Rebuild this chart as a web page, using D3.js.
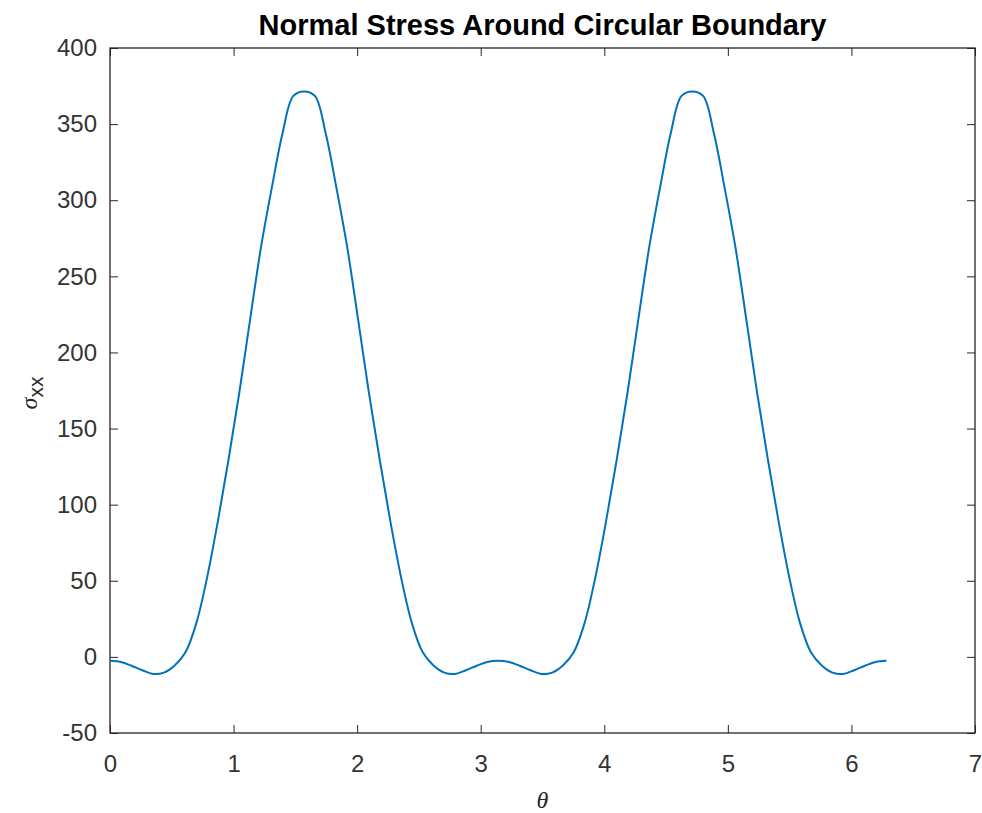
<!DOCTYPE html>
<html><head><meta charset="utf-8">
<script src="https://cdn.jsdelivr.net/npm/d3@7"></script>
<style>
html,body{margin:0;padding:0;background:#fff;}
svg{display:block;}
</style></head>
<body>
<svg id="chart" width="982" height="813"></svg>
<script>
const thetaDeg = [
  0,5,10,15,20,25,30,35,40,45,50,55,60,65,70,75,80,85,90,
  95,100,105,110,115,120,125,130,135,140,145,150,155,160,165,170,175,180,
  185,190,195,200,205,210,215,220,225,230,235,240,245,250,255,260,265,270,
  275,280,285,290,295,300,305,310,315,320,325,330,335,340,345,350,355,360
];
const sigmaXX = [
  -2.6,-3.3,-5.8,-8.8,-11.2,-10.3,-5.6,3,22,52,89,130,174,222,269,308,344,368.5,371.5,
  368.5,344,308,269,222,174,130,89,52,22,3,-5.6,-10.3,-11.2,-8.8,-5.8,-3.3,-2.6,
  -3.3,-5.8,-8.8,-11.2,-10.3,-5.6,3,22,52,89,130,174,222,269,308,344,368.5,371.5,
  368.5,344,308,269,222,174,130,89,52,22,3,-5.6,-10.3,-11.2,-8.8,-5.8,-3.3,-2.6
];
const xTicks = [0,1,2,3,4,5,6,7];
const yTicks = [-50,0,50,100,150,200,250,300,350,400];
const titleText = "Normal Stress Around Circular Boundary";

const data = thetaDeg.map((d,i)=>({t: d*Math.PI/180, v: sigmaXX[i]}));

const svg = d3.select("#chart");
const L=110, R=975, T=48, B=733;
const x = d3.scaleLinear().domain([0,7]).range([L,R]);
const y = d3.scaleLinear().domain([-50,400]).range([B,T]);
const axisColor = "#262626";
const font = "'Liberation Sans', Arial, Helvetica, sans-serif";
const fmt = d => String(d);

function style(g){
  g.select(".domain").remove();
  g.selectAll(".tick line").attr("stroke",axisColor).attr("stroke-width",1);
  g.selectAll(".tick text").attr("fill","#333").style("font-family",font).style("font-size","24px");
}

svg.append("g").attr("transform",`translate(0,${B})`)
  .call(d3.axisBottom(x).tickValues(xTicks).tickFormat(fmt).tickSize(-8).tickPadding(22)).call(style);
svg.append("g").attr("transform",`translate(0,${T})`)
  .call(d3.axisTop(x).tickValues(xTicks).tickFormat("").tickSize(-8)).call(style);
svg.append("g").attr("transform",`translate(${L},0)`)
  .call(d3.axisLeft(y).tickValues(yTicks).tickFormat(fmt).tickSize(-8).tickPadding(13)).call(style);
svg.append("g").attr("transform",`translate(${R},0)`)
  .call(d3.axisRight(y).tickValues(yTicks).tickFormat("").tickSize(-8)).call(style);

svg.append("rect").attr("x",L).attr("y",T).attr("width",R-L).attr("height",B-T)
  .attr("fill","none").attr("stroke",axisColor).attr("stroke-width",1.3);

const line = d3.line().x(d=>x(d.t)).y(d=>y(d.v)).curve(d3.curveCatmullRom.alpha(0.5));
svg.append("path").datum(data).attr("d",line)
  .attr("fill","none").attr("stroke","#0072BD").attr("stroke-width",2);

svg.append("text").attr("x",(L+R)/2).attr("y",35).attr("text-anchor","middle")
  .style("font-family",font).style("font-size","29px").style("font-weight","bold").attr("fill","#000")
  .text(titleText);

svg.append("text").attr("x",(L+R)/2).attr("y",808).attr("text-anchor","middle")
  .style("font-family","'Liberation Serif', 'Times New Roman', serif").style("font-style","italic")
  .style("font-size","24px").attr("fill",axisColor).text("θ");

const yl = svg.append("text").attr("transform","translate(37,393) rotate(-90)").attr("text-anchor","middle")
  .attr("fill",axisColor);
yl.append("tspan").style("font-family","'Liberation Serif', 'Times New Roman', serif").style("font-style","italic")
  .style("font-size","24px").text("σ");
yl.append("tspan").attr("dy",6).style("font-family",font).style("font-size","21px").text("xx");
</script>
</body></html>
